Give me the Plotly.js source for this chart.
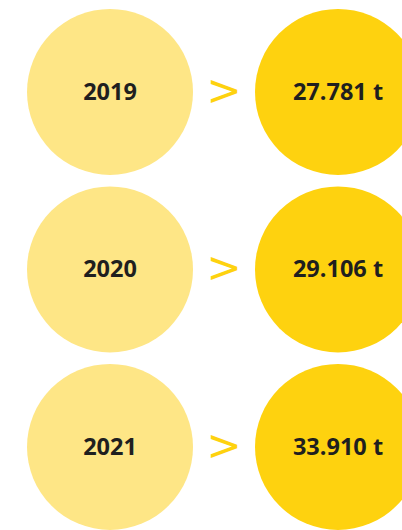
<!DOCTYPE html>
<html>
<head>
<meta charset="utf-8">
<script src="https://cdn.plot.ly/plotly-3.0.1.min.js"></script>
<style>html,body{margin:0;padding:0;background:#fff;}#chart{width:402px;height:530px;}</style>
</head>
<body>
<div id="chart"></div>
<script>
const years = ['2019', '2020', '2021'];
const tonnes = [27781, 29106, 33910];
const unit = 't';

const rows = years.map((_, i) => i);
const lightYellow = '#FEE686';
const darkYellow = '#FED20F';
const textColor = '#1f1f1f';
const fontFam = '"Open Sans", "Noto Sans", sans-serif';
const textShift = 0.012;

function circles(xv, color) {
  return {
    type: 'scatter', mode: 'markers',
    x: rows.map(() => xv), y: rows,
    marker: {size: 166, color: color, line: {width: 0}},
    hoverinfo: 'skip', cliponaxis: false
  };
}
const yearText = {
  type: 'scatter', mode: 'text',
  x: rows.map(() => 0), y: rows.map(r => r + textShift),
  text: years,
  textposition: 'middle center',
  textfont: {family: fontFam, size: 23.5, color: textColor, weight: 700},
  hoverinfo: 'skip', cliponaxis: false
};
const valueText = {
  type: 'scatter', mode: 'text',
  x: rows.map(() => 1), y: rows.map(r => r + textShift),
  customdata: tonnes,
  texttemplate: '%{customdata:,} ' + unit,
  textposition: 'middle center',
  textfont: {family: fontFam, size: 23.5, color: textColor, weight: 700},
  hoverinfo: 'skip', cliponaxis: false
};
const arrowTrace = {
  type: 'scatter', mode: 'text',
  x: rows.map(() => 0.5), y: rows.map(r => r + textShift),
  text: rows.map(() => '>'),
  textposition: 'middle center',
  textfont: {family: '"DejaVu Sans", sans-serif', size: 42, color: darkYellow},
  hoverinfo: 'skip', cliponaxis: false
};

const layout = {
  width: 402, height: 530,
  margin: {l: 0, r: 0, t: 0, b: 0},
  paper_bgcolor: '#ffffff', plot_bgcolor: '#ffffff',
  separators: ',.',
  showlegend: false,
  xaxis: {range: [-0.4825, 1.2807], visible: false, fixedrange: true},
  yaxis: {range: [2.468, -0.518], visible: false, fixedrange: true}
};

Plotly.newPlot('chart', [circles(0, lightYellow), circles(1, darkYellow), yearText, valueText, arrowTrace], layout, {staticPlot: true, displayModeBar: false});
</script>
</body>
</html>
